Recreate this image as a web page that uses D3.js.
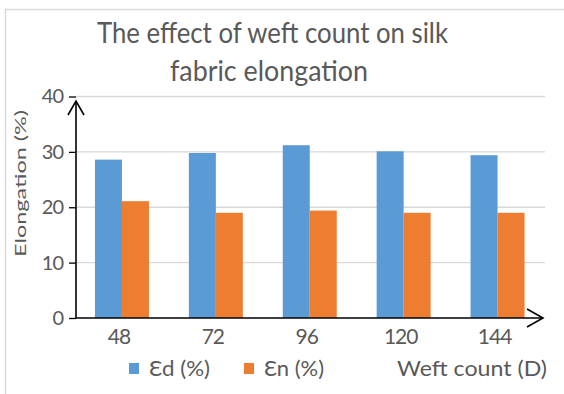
<!DOCTYPE html>
<html><head><meta charset="utf-8">
<script src="https://cdn.jsdelivr.net/npm/d3@7"></script>
<style>body{margin:0;background:#fff}svg{display:block}text{font-family:Lato,"Open Sans",sans-serif;fill:#595959}</style>
</head><body><svg id="c" width="564" height="394"></svg>
<script>
const categories = ["48","72","96","120","144"];
const seriesNames = ["Ɛd (%)","Ɛn (%)"];
const edValues = [28.6, 29.8, 31.2, 30.1, 29.4];
const enValues = [21.1, 19.0, 19.4, 19.0, 19.0];
const yTicks = [0,10,20,30,40];
const colors = ["#5b9bd5","#ed7d31"];
const titleLines = ["The effect of weft count on silk","fabric elongation"];
const xTitle = "Weft count (D)";
const yTitle = "Elongation (%)";

(function(){
const svg = d3.select("#c");
const fit = (sel, w) => sel.attr("textLength", w).attr("lengthAdjust","spacingAndGlyphs");

svg.append("rect").attr("x",5.5).attr("y",9.5).attr("width",600).attr("height",400)
  .attr("fill","#fff").attr("stroke","#d9d9d9").attr("stroke-width",1.5);

const pL=76, pR=545, pT=96.5, pB=318;
const x0 = d3.scaleBand().domain(categories).range([75, 544.5]);
const x1 = d3.scaleBand().domain(seriesNames).range([0, x0.bandwidth()]).paddingOuter(0.739);
const y = d3.scaleLinear().domain([0,40]).range([pB, pT]);

svg.append("g").selectAll("line").data(yTicks.filter(d=>d>0)).join("line")
  .attr("x1",pL).attr("x2",pR).attr("y1",d=>y(d)).attr("y2",d=>y(d))
  .attr("stroke","#d9d9d9").attr("stroke-width",1.3);

const data = categories.map((c,i)=>({c, vals:[edValues[i], enValues[i]]}));
svg.append("g").selectAll("g").data(data).join("g")
  .attr("transform",d=>`translate(${x0(d.c)},0)`)
  .selectAll("rect").data(d=>d.vals.map((v,j)=>({s:seriesNames[j],v,j}))).join("rect")
  .attr("x",d=>x1(d.s)).attr("width",x1.bandwidth())
  .attr("y",d=>y(d.v)).attr("height",d=>y(0)-y(d.v))
  .attr("fill",d=>colors[d.j]);

const yAxis = d3.axisLeft(y).tickValues(yTicks).tickSize(7).tickPadding(6);
const ga = svg.append("g").attr("transform",`translate(${pL},0)`).call(yAxis);
ga.select(".domain").remove();
ga.selectAll(".tick line").attr("stroke","#000").attr("stroke-width",1.3);
ga.selectAll(".tick text").style("font-size","20px").style("letter-spacing","-1px")
  .attr("fill","#595959").style("font-family","Lato");

svg.append("line").attr("x1",pL).attr("x2",pL).attr("y1",pB).attr("y2",101)
  .attr("stroke","#000").attr("stroke-width",1.6);
svg.append("path").attr("d",`M${pL-8},115 L${pL},101 L${pL+8},115`)
  .attr("fill","none").attr("stroke","#000").attr("stroke-width",1.6);

svg.append("line").attr("x1",pL).attr("x2",543).attr("y1",pB).attr("y2",pB)
  .attr("stroke","#000").attr("stroke-width",1.6);
svg.append("path").attr("d",`M527,309 L543,${pB} L527,327`)
  .attr("fill","none").attr("stroke","#000").attr("stroke-width",1.6);

const gx = svg.append("g").attr("transform",`translate(-3,${pB})`)
  .call(d3.axisBottom(x0).tickSize(0).tickPadding(11));
gx.select(".domain").remove();
gx.selectAll(".tick text").style("font-size","21px").style("letter-spacing","-1px")
  .attr("fill","#595959").style("font-family","Lato");

const tW = [351, 198];
svg.append("g").selectAll("text").data(titleLines).join("text")
  .attr("x",(d,i)=>i===0?272.5:269).attr("y",(d,i)=>43+i*38).attr("text-anchor","middle")
  .style("font-size","29px").text(d=>d)
  .each(function(d,i){ fit(d3.select(this), tW[i]); });

fit(svg.append("text").attr("transform","translate(26,183.5) rotate(-90)")
  .attr("text-anchor","middle").style("font-size","16px").text(yTitle), 147);

const lg = svg.append("g");
const lx = [129, 244], lw = [61, 60];
seriesNames.forEach((s,i)=>{
  lg.append("rect").attr("x",lx[i]).attr("y",363).attr("width",10).attr("height",11).attr("fill",colors[i]);
  fit(lg.append("text").attr("x",lx[i]+20).attr("y",376).style("font-size","21px").text(s), lw[i]);
});
fit(svg.append("text").attr("x",397).attr("y",376).style("font-size","21px").text(xTitle), 150);
})();
</script></body></html>
